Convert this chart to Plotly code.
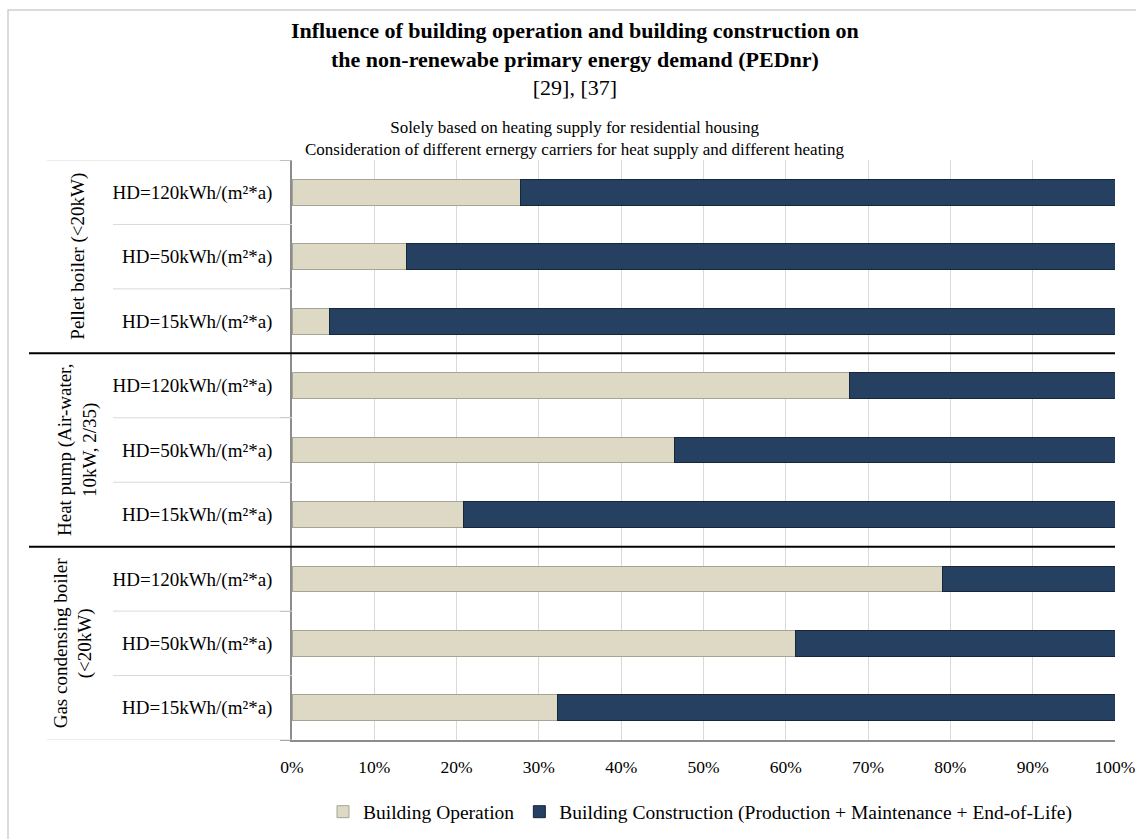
import plotly.graph_objects as go

# ---- data ----
groups = ["Pellet boiler (<20kW)", "Heat pump (Air-water,<br>10kW, 2/35)", "Gas condensing boiler<br>(<20kW)"]
hd_labels = ["HD=120kWh/(m²*a)", "HD=50kWh/(m²*a)", "HD=15kWh/(m²*a)"]
operation = [27.8, 13.9, 4.6, 67.7, 46.5, 20.8, 79.1, 61.2, 32.2]  # % Building Operation
construction = [round(100 - v, 1) for v in operation]            # % Building Construction
x_ticks = [0, 10, 20, 30, 40, 50, 60, 70, 80, 90, 100]

labels = [lab for g in groups for lab in hd_labels]
pos = list(range(len(labels)))

BEIGE = "#ddd9c4"
NAVY = "#254061"
FONT = "Liberation Serif"

fig = go.Figure()
fig.add_trace(go.Bar(
    y=pos, x=operation, orientation="h", name="Building Operation",
    marker=dict(color=BEIGE, line=dict(color="#a5a596", width=1)), width=0.4,
))
fig.add_trace(go.Bar(
    y=pos, x=construction, orientation="h",
    name="Building Construction (Production + Maintenance + End-of-Life)",
    marker=dict(color=NAVY, line=dict(color="#17263a", width=1)), width=0.4,
))

W_PLOT = 1115 - 292
H_PLOT = 740 - 160

def px_x(px):
    return (px - 292) / W_PLOT

def px_y(py):
    return (740 - py) / H_PLOT

shapes = []
# figure border
shapes.append(dict(type="rect", xref="paper", yref="paper", x0=px_x(8), x1=px_x(1150),
                   y0=px_y(850), y1=px_y(10), line=dict(color="#d0d0d0", width=1.5), layer="below"))
# label area top / bottom lines
for yb in [-0.5, len(labels) - 0.5]:
    shapes.append(dict(type="line", xref="paper", yref="y", x0=px_x(47), x1=0, y0=yb, y1=yb,
                       line=dict(color="#d9d9d9", width=1)))
# inner category dividers in label area
for gi in range(len(groups)):
    for k in range(1, len(hd_labels)):
        yb = gi * len(hd_labels) + k - 0.5
        shapes.append(dict(type="line", xref="paper", yref="y", x0=px_x(113), x1=0, y0=yb, y1=yb,
                           line=dict(color="#d9d9d9", width=1)))
# group separators
for gi in range(1, len(groups)):
    yb = gi * len(hd_labels) - 0.5
    shapes.append(dict(type="line", xref="paper", yref="y", x0=px_x(29), x1=1, y0=yb, y1=yb,
                       line=dict(color="black", width=2)))

annotations = []
group_x = [78, 77, 73]
for gi, g in enumerate(groups):
    annotations.append(dict(x=px_x(group_x[gi]), xref="paper", xanchor="center",
                            y=gi * len(hd_labels) + 1, yref="y", yanchor="middle",
                            text=g, textangle=-90, showarrow=False,
                            font=dict(family=FONT, size=19, color="black")))
annotations.append(dict(x=px_x(575), xref="paper", xanchor="center", y=px_y(59), yref="paper",
                        yanchor="middle",
                        text="<b>Influence of building operation and building construction on<br>the non-renewabe primary energy demand (PEDnr)</b><br>[29], [37]",
                        showarrow=False, font=dict(family=FONT, size=22, color="black"), align="center"))
annotations.append(dict(x=px_x(575), xref="paper", xanchor="center", y=px_y(138), yref="paper",
                        yanchor="middle",
                        text="Solely based on heating supply for residential housing<br>Consideration of different ernergy carriers for heat supply and different heating",
                        showarrow=False, font=dict(family=FONT, size=17, color="black"), align="center"))

fig.update_layout(
    width=1136, height=839,
    margin=dict(l=292, r=21, t=160, b=99, autoexpand=False),
    barmode="stack",
    plot_bgcolor="white", paper_bgcolor="white",
    font=dict(family=FONT, size=19, color="black"),
    showlegend=True,
    legend=dict(orientation="h", x=px_x(700), xanchor="center", y=px_y(812), yanchor="middle",
                font=dict(family=FONT, size=19.5, color="black"), traceorder="normal",
                itemwidth=30),
    shapes=shapes, annotations=annotations,
)
fig.update_xaxes(range=[0, 100], tickvals=x_ticks, ticktext=[f"{v}%" for v in x_ticks],
                 showgrid=True, gridcolor="#d9d9d9", gridwidth=1, automargin=False,
                 showline=True, linecolor="#8c8c8c", linewidth=1.5, ticks="", zeroline=False,
                 ticklabelstandoff=10,
                 tickfont=dict(family=FONT, size=17.5, color="black"))
fig.update_yaxes(range=[len(labels) - 0.5, -0.5], tickvals=pos, ticktext=labels,
                 showgrid=False, showline=True, linecolor="#8c8c8c", linewidth=1.5,
                 ticks="", zeroline=False, ticklabelstandoff=14, automargin=False,
                 minor=dict(tickvals=[p - 0.5 for p in pos] + [len(labels) - 0.5], ticks="outside",
                            ticklen=10, tickcolor="#a6a6a6", tickwidth=1, showgrid=False),
                 tickfont=dict(family=FONT, size=19, color="black"))

fig.write_html("out.html", config={"displayModeBar": False},
               post_script="document.body.style.margin='0';")
